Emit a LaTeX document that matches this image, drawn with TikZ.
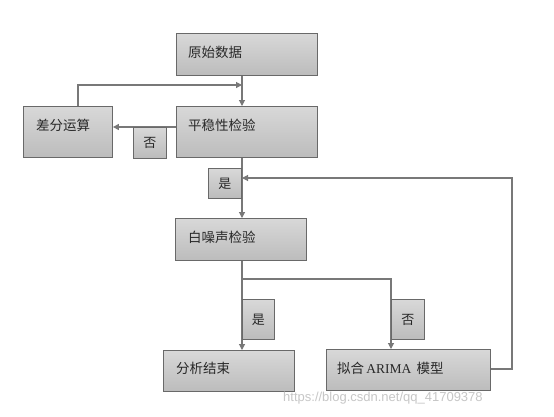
\documentclass[tikz,border=0pt]{standalone}
\usepackage{fontspec}
\newfontfamily\cjk{Noto Sans CJK SC}
\newfontfamily\wmfont{Liberation Sans}
\usetikzlibrary{arrows.meta}
\definecolor{boxborder}{RGB}{105,105,105}
\definecolor{boxtop}{RGB}{216,216,216}
\definecolor{boxbot}{RGB}{188,188,188}
\definecolor{linegray}{RGB}{120,120,120}
\definecolor{txtcol}{RGB}{40,40,40}
\begin{document}
\begin{tikzpicture}[x=1pt,y=-1pt,
  box/.style={draw=boxborder, line width=0.9pt, top color=boxtop, bottom color=boxbot,
    inner sep=0pt, anchor=north west},
  tag/.style={box, font=\cjk\fontsize{13}{15}\selectfont, text=txtcol},
  txt/.style={anchor=west, inner sep=0pt, text=txtcol, font=\cjk\fontsize{13.5}{16}\selectfont},
  conn/.style={draw=linegray, line width=1.1pt, -{Triangle[length=6pt,width=6pt]}},
  plain/.style={draw=linegray, line width=1.1pt}]
\fill[white] (0,0) rectangle (554,416);
\useasboundingbox (0,0) rectangle (554,416);
% helper coordinates
\coordinate (spine) at (242,0);
\coordinate (rowA) at (0,127);
\coordinate (loopL) at (78,85);
\coordinate (loopR) at (242,85);
\coordinate (branchY) at (0,279);
\coordinate (fitX) at (391,0);
\coordinate (fbY) at (0,369);
\coordinate (fbR) at (512,178);
\coordinate (fbEnd) at (242,178);
% boxes
\node[box, minimum width=141pt, minimum height=42pt] (raw) at (176,33) {};
\node[box, minimum width=141pt, minimum height=51pt] (stat) at (176,106) {};
\node[box, minimum width=89pt, minimum height=51pt] (diff) at (23,106) {};
\node[box, minimum width=131pt, minimum height=42pt] (wn) at (175,218) {};
\node[box, minimum width=131pt, minimum height=41pt] (end) at (163,350) {};
\node[box, minimum width=164pt, minimum height=41pt] (fit) at (326,349) {};
% texts
\node[txt] (rawT) at (188,52) {原始数据};
\node[txt] (statT) at (188,125) {平稳性检验};
\node[txt] (diffT) at (36,125) {差分运算};
\node[txt] (wnT) at (188,237) {白噪声检验};
\node[txt] (endT) at (176,368) {分析结束};
\node[txt] (fitT) at (337,368) {拟合\,{\fontspec{Liberation Serif}ARIMA}\, 模型};
% connectors
\draw[conn] (raw.south -| spine) -- (stat.north -| spine);
\draw[conn] (stat.west |- rowA) -- (diff.east |- rowA);
\draw[conn] (diff.north -| loopL) -- (loopL) -- (loopR);
\draw[conn] (stat.south -| spine) -- (wn.north -| spine);
\draw[conn] (wn.south -| spine) -- (end.north -| spine);
\draw[conn] (spine |- branchY) -| (fit.north -| fitX);
\draw[conn] (fit.east |- fbY) -| (fbR) -- (fbEnd);
% tags
\node[tag, minimum width=33pt, minimum height=31pt] (no1) at (133,127) {否};
\node[tag, minimum width=33pt, minimum height=30pt] (yes1) at (208,168) {是};
\node[tag, minimum width=32pt, minimum height=40pt] (yes2) at (242,299) {是};
\node[tag, minimum width=33pt, minimum height=40pt] (no2) at (391,299) {否};
% watermark
\node[anchor=west, inner sep=0pt, text=black!22, font=\wmfont\fontsize{13}{15}\selectfont] (wm) at (283,398) {https://blog.csdn.net/qq\_41709378};
\end{tikzpicture}
\end{document}
